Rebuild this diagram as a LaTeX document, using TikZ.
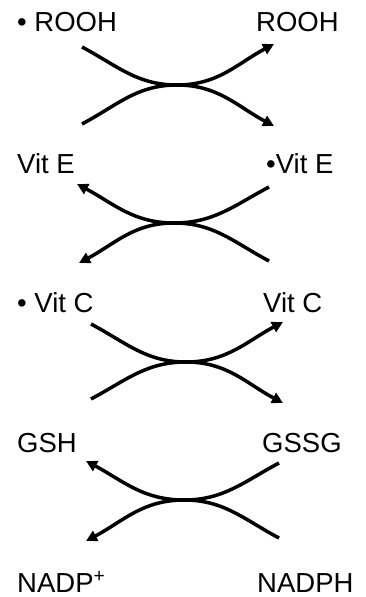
\documentclass[tikz,border=0pt]{standalone}
\usepackage{fontspec}
\setmainfont{Liberation Sans}
\usetikzlibrary{arrows.meta}
\begin{document}
\begin{tikzpicture}[x=1pt,y=-1pt,
  lbl/.style={anchor=base west,inner sep=0pt,font=\fontsize{27.5}{32}\selectfont},
  rx/.style={line width=3.5pt,-{Triangle[length=11pt,width=11pt]}}]
\useasboundingbox[fill=white] (0,0) rectangle (365,597);
% labels
\node[lbl] (rooh1) at (17,31.5) {• ROOH};
\node[lbl] (rooh2) at (256,31.5) {ROOH};
\node[lbl] (vite1) at (17,173) {Vit E};
\node[lbl] (vite2) at (266,173) {•Vit E};
\node[lbl] (vitc1) at (17,312) {• Vit C};
\node[lbl] (vitc2) at (263,312) {Vit C};
\node[lbl] (gsh) at (17,452.5) {GSH};
\node[lbl] (gssg) at (262,452.5) {GSSG};
\node[lbl] (nadp) at (17,592) {NADP\textsuperscript{+}};
\node[lbl] (nadph) at (257,592) {NADPH};
% block 1
\coordinate (a1) at (82,47);  \coordinate (b1) at (274,44);
\coordinate (c1) at (82,124); \coordinate (d1) at (274,126);
\coordinate (x1) at (177,85);
\draw[rx] (a1) to[out=-28,in=180] (x1) to[out=0,in=152] (d1);
\draw[rx] (c1) to[out=28,in=180] (x1) to[out=0,in=208] (b1);
% block 2
\coordinate (a2) at (269,187); \coordinate (b2) at (77,184);
\coordinate (c2) at (269,261); \coordinate (d2) at (79,263);
\coordinate (x2) at (174,223);
\draw[rx] (a2) to[out=208,in=0] (x2) to[out=180,in=28] (d2);
\draw[rx] (c2) to[out=152,in=0] (x2) to[out=180,in=-28] (b2);
% block 3
\coordinate (a3) at (91,324); \coordinate (b3) at (283,322);
\coordinate (c3) at (91,399); \coordinate (d3) at (283,403);
\coordinate (x3) at (186,362);
\draw[rx] (a3) to[out=-28,in=180] (x3) to[out=0,in=152] (d3);
\draw[rx] (c3) to[out=28,in=180] (x3) to[out=0,in=208] (b3);
% block 4
\coordinate (a4) at (279,463); \coordinate (b4) at (86,461);
\coordinate (c4) at (279,538); \coordinate (d4) at (86,541);
\coordinate (x4) at (184,500);
\draw[rx] (a4) to[out=208,in=0] (x4) to[out=180,in=28] (d4);
\draw[rx] (c4) to[out=152,in=0] (x4) to[out=180,in=-28] (b4);
\end{tikzpicture}
\end{document}
